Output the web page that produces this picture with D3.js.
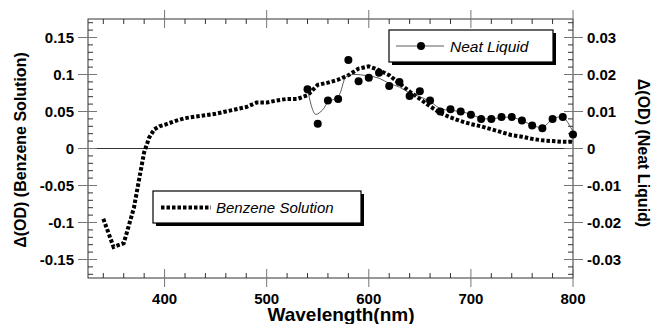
<!DOCTYPE html>
<html>
<head>
<meta charset="utf-8">
<script src="https://cdn.jsdelivr.net/npm/d3@7"></script>
<style>
  body { margin: 0; background: #fff; }
  svg { font-family: "Liberation Sans", Arial, sans-serif; }
</style>
</head>
<body>
<svg width="655" height="324"></svg>
<script>
// Benzene solution (left axis)
const benzeneWl = [340, 350, 360, 370, 375, 380, 385, 390, 395, 400, 410, 420, 430, 440, 450, 460, 470, 480, 490, 500,
  510, 520, 530, 540, 550, 560, 570, 580, 590, 600, 610, 620, 630, 640, 650, 660, 670, 680, 690, 700,
  710, 720, 730, 740, 750, 760, 770, 780, 790, 800];
const benzeneOD = [-0.095, -0.133, -0.128, -0.080, -0.042, -0.005, 0.015, 0.026, 0.030, 0.032, 0.037, 0.041, 0.043, 0.045, 0.047, 0.050, 0.053, 0.056, 0.062, 0.062,
  0.065, 0.067, 0.067, 0.072, 0.086, 0.089, 0.093, 0.099, 0.108, 0.111, 0.106, 0.099, 0.088, 0.077, 0.067, 0.057, 0.048, 0.042, 0.037, 0.033,
  0.030, 0.026, 0.022, 0.018, 0.016, 0.013, 0.011, 0.010, 0.009, 0.009];

// Neat liquid points (right axis)
const neatWl = [540, 550, 560, 570, 580, 590, 600, 610, 620, 630, 640, 650, 660, 670, 680, 690, 700,
  710, 720, 730, 740, 750, 760, 770, 780, 790, 800];
const neatOD = [0.0160, 0.0067, 0.0130, 0.0134, 0.0239, 0.0182, 0.0191, 0.0205, 0.0169, 0.0180, 0.0142, 0.0155, 0.0130, 0.0100, 0.0106, 0.0100, 0.0091,
  0.0080, 0.0080, 0.0085, 0.0085, 0.0076, 0.0062, 0.0055, 0.0080, 0.0085, 0.0038];

// Smoothed fit through neat liquid data
const fitWl = [540, 545, 548, 555, 560, 570, 578, 585, 600, 610, 620, 630, 640, 650, 660, 670, 680, 690, 700,
  710, 720, 730, 740, 750, 760, 770, 780, 790, 800];
const fitOD = [0.0160, 0.0105, 0.0092, 0.0105, 0.0125, 0.0140, 0.0195, 0.0200, 0.0196, 0.0190, 0.0176, 0.0166, 0.0150, 0.0140, 0.0127, 0.0108, 0.0103, 0.0100, 0.0092,
  0.0082, 0.0080, 0.0084, 0.0084, 0.0076, 0.0063, 0.0057, 0.0079, 0.0085, 0.0045];

const xTickLabels = [400, 500, 600, 700, 800];
const yLeftTicks = [-0.15, -0.1, -0.05, 0, 0.05, 0.1, 0.15];
const yRightTicks = [-0.03, -0.02, -0.01, 0, 0.01, 0.02, 0.03];

const svg = d3.select("svg");
const pLeft = 88, pRight = 573, pTop = 19, pBottom = 278;

const x = d3.scaleLinear().domain([325, 800]).range([pLeft, pRight]);
const yL = d3.scaleLinear().domain([-0.175, 0.175]).range([pBottom, pTop]);
const yR = d3.scaleLinear().domain([-0.035, 0.035]).range([pBottom, pTop]);

const axisColor = "#333";
const majorColor = "#777";

// frame
svg.append("rect")
  .attr("x", pLeft).attr("y", pTop)
  .attr("width", pRight - pLeft).attr("height", pBottom - pTop)
  .attr("fill", "none").attr("stroke", axisColor).attr("stroke-width", 1);

// zero line
svg.append("line")
  .attr("x1", pLeft).attr("x2", pRight)
  .attr("y1", yL(0)).attr("y2", yL(0))
  .attr("stroke", axisColor);

const ticks = svg.append("g").attr("stroke-width", 1);

// x ticks (bottom and top)
const xMinor = d3.range(340, 800, 20).filter(d => d % 100 !== 0);
[pBottom, pTop].forEach(yy => {
  const dir = yy === pBottom ? -1 : 1;
  ticks.selectAll(null).data(xMinor).join("line")
    .attr("x1", d => x(d)).attr("x2", d => x(d))
    .attr("y1", yy).attr("y2", yy + dir * 5)
    .attr("stroke", axisColor);
  ticks.selectAll(null).data(xTickLabels).join("line")
    .attr("x1", d => x(d)).attr("x2", d => x(d))
    .attr("y1", yy - 9).attr("y2", yy + 9)
    .attr("stroke", majorColor);
});

// left y ticks
const yLMinor = d3.range(-17, 18).map(d => d / 100).filter(d => Math.round(d * 100) % 5 !== 0);
ticks.selectAll(null).data(yLMinor).join("line")
  .attr("x1", pLeft).attr("x2", pLeft + 5)
  .attr("y1", d => yL(d)).attr("y2", d => yL(d))
  .attr("stroke", axisColor);
ticks.selectAll(null).data(yLeftTicks).join("line")
  .attr("x1", pLeft - 10).attr("x2", pLeft + 9)
  .attr("y1", d => yL(d)).attr("y2", d => yL(d))
  .attr("stroke", majorColor);

// right y ticks
const yRMinor = d3.range(-17, 18).map(d => d / 500).filter(d => Math.round(d * 500) % 5 !== 0);
ticks.selectAll(null).data(yRMinor).join("line")
  .attr("x1", pRight - 5).attr("x2", pRight)
  .attr("y1", d => yR(d)).attr("y2", d => yR(d))
  .attr("stroke", axisColor);
ticks.selectAll(null).data(yRightTicks).join("line")
  .attr("x1", pRight - 9).attr("x2", pRight + 10)
  .attr("y1", d => yR(d)).attr("y2", d => yR(d))
  .attr("stroke", majorColor);

// tick labels
const fmt = d => d === 0 ? "0" : String(+d.toFixed(3));
svg.append("g").selectAll("text").data(xTickLabels).join("text")
  .attr("x", d => x(d)).attr("y", 304)
  .attr("text-anchor", "middle")
  .attr("font-size", 15).attr("font-weight", "bold")
  .text(d => d);
svg.append("g").selectAll("text").data(yLeftTicks).join("text")
  .attr("x", 74).attr("y", d => yL(d) + 5)
  .attr("text-anchor", "end")
  .attr("font-size", 15).attr("font-weight", "bold")
  .text(fmt);
svg.append("g").selectAll("text").data(yRightTicks).join("text")
  .attr("x", 587).attr("y", d => yR(d) + 5)
  .attr("text-anchor", "start")
  .attr("font-size", 15).attr("font-weight", "bold")
  .text(fmt);

// axis titles
svg.append("text")
  .attr("x", 341).attr("y", 321)
  .attr("text-anchor", "middle")
  .attr("font-size", 19).attr("font-weight", "bold")
  .text("Wavelength(nm)");
svg.append("text")
  .attr("transform", "translate(26,150) rotate(-90)")
  .attr("text-anchor", "middle")
  .attr("font-size", 16).attr("font-weight", "bold")
  .text("Δ(OD) (Benzene Solution)");
svg.append("text")
  .attr("transform", "translate(638,153) rotate(90)")
  .attr("text-anchor", "middle")
  .attr("font-size", 16).attr("font-weight", "bold")
  .text("Δ(OD) (Neat Liquid)");

// benzene dashed curve
const benzene = benzeneWl.map((w, i) => [w, benzeneOD[i]]);
svg.append("path")
  .datum(benzene)
  .attr("fill", "none")
  .attr("stroke", "#000")
  .attr("stroke-width", 4)
  .attr("stroke-dasharray", "3.5,2")
  .attr("d", d3.line().x(d => x(d[0])).y(d => yL(d[1])));

// neat fit line
const fit = fitWl.map((w, i) => [w, fitOD[i]]);
svg.append("path")
  .datum(fit)
  .attr("fill", "none")
  .attr("stroke", "#333")
  .attr("stroke-width", 0.8)
  .attr("d", d3.line().curve(d3.curveCatmullRom).x(d => x(d[0])).y(d => yR(d[1])));

// neat points
const neat = neatWl.map((w, i) => [w, neatOD[i]]);
svg.append("g").selectAll("circle").data(neat).join("circle")
  .attr("cx", d => x(d[0])).attr("cy", d => yR(d[1]))
  .attr("r", 4)
  .attr("fill", "#000");

// legends
function legendBox(x0, y0, w, h) {
  svg.append("rect").attr("x", x0 + 3).attr("y", y0 + 3).attr("width", w).attr("height", h).attr("fill", "#000");
  svg.append("rect").attr("x", x0).attr("y", y0).attr("width", w).attr("height", h)
    .attr("fill", "#fff").attr("stroke", "#000").attr("stroke-width", 1.2);
}

legendBox(389, 30, 164, 32);
svg.append("line").attr("x1", 396).attr("x2", 444).attr("y1", 46).attr("y2", 46)
  .attr("stroke", "#333").attr("stroke-width", 0.8);
svg.append("circle").attr("cx", 421).attr("cy", 46).attr("r", 4).attr("fill", "#000");
svg.append("text").attr("x", 450).attr("y", 51.5)
  .attr("font-size", 15.5).attr("font-style", "italic")
  .text("Neat Liquid");

legendBox(153, 191, 208, 32);
svg.append("line").attr("x1", 161).attr("x2", 211).attr("y1", 207.5).attr("y2", 207.5)
  .attr("stroke", "#000").attr("stroke-width", 4).attr("stroke-dasharray", "3.5,2");
svg.append("text").attr("x", 216).attr("y", 213)
  .attr("font-size", 15).attr("font-style", "italic")
  .text("Benzene Solution");
</script>
</body>
</html>
